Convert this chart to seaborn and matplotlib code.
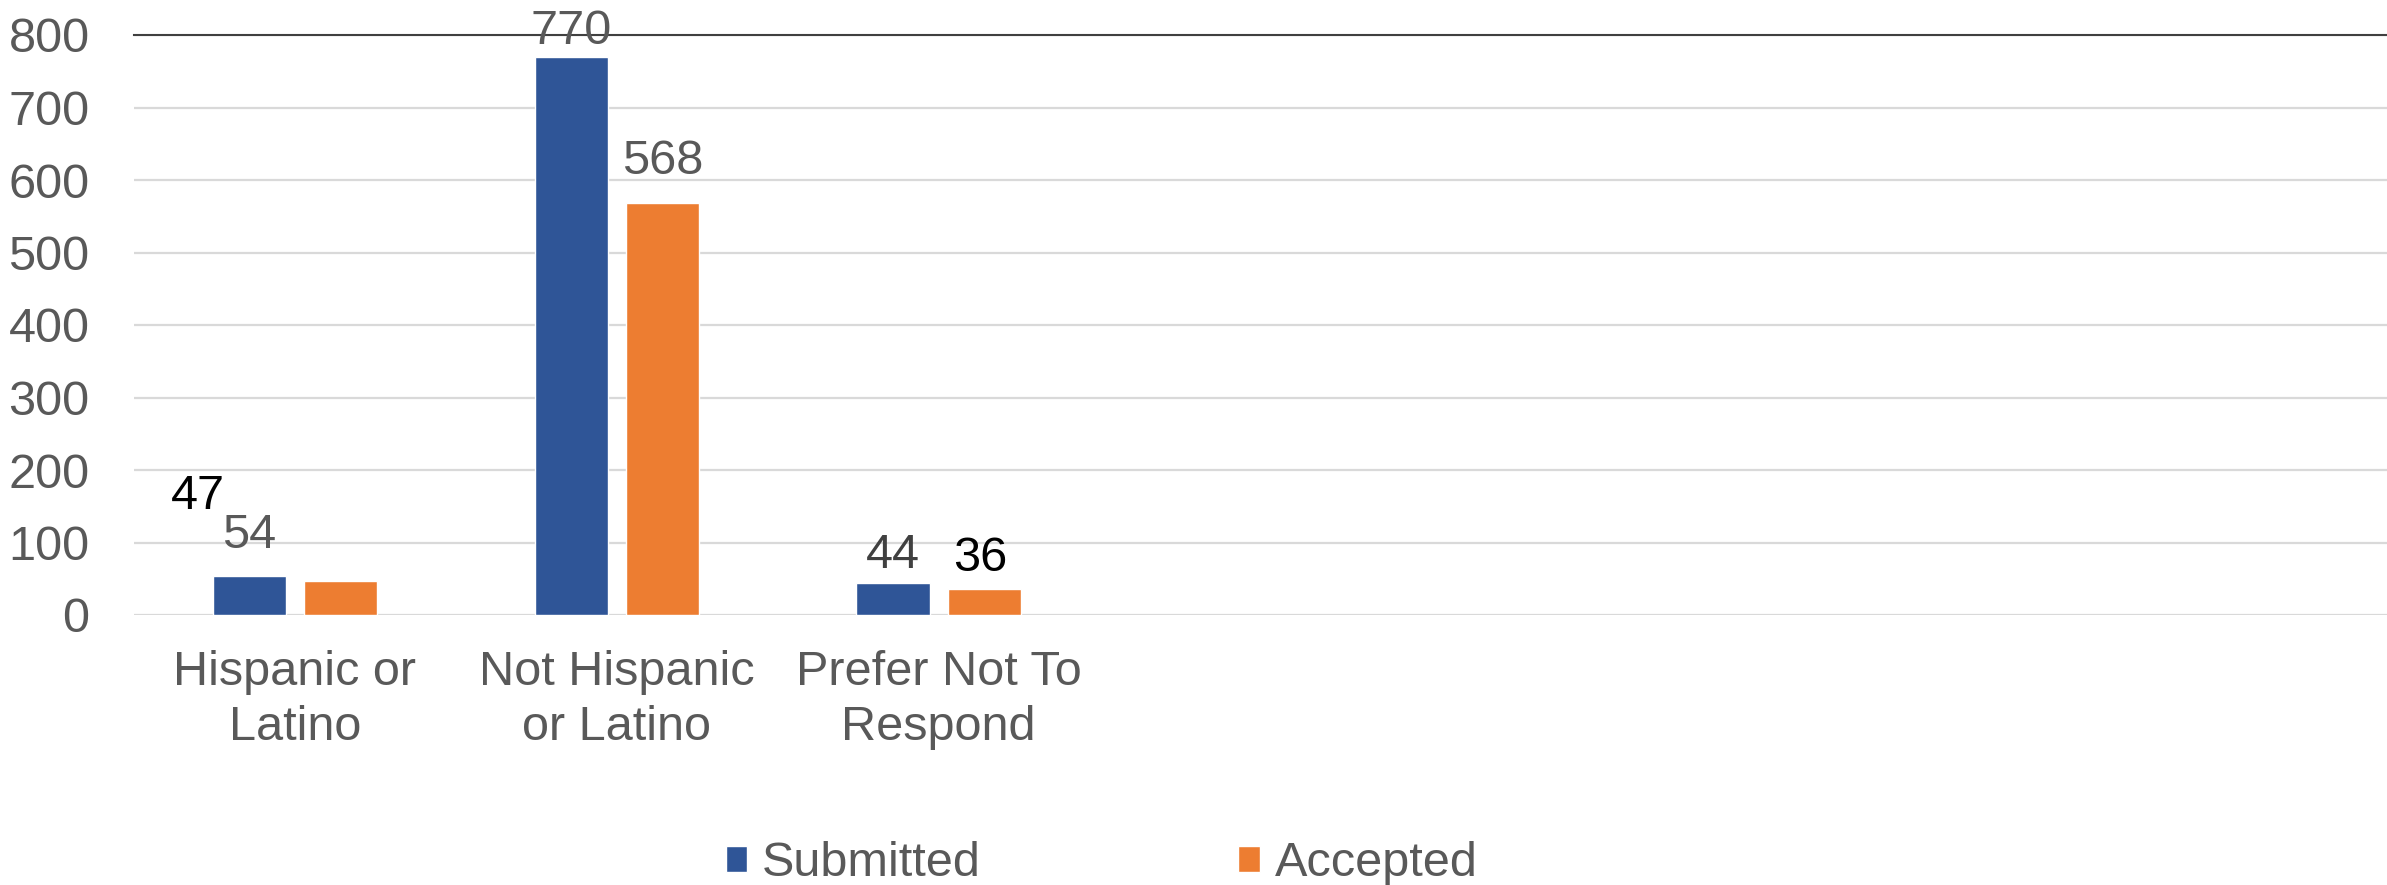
import matplotlib
matplotlib.use("Agg")
import matplotlib.pyplot as plt
import seaborn as sns
import pandas as pd

# data
categories = ["Hispanic or\nLatino", "Not Hispanic\nor Latino", "Prefer Not To\nRespond"]
submitted = [54, 770, 44]
accepted = [47, 568, 36]
series = ["Submitted", "Accepted"]
yticks = [0, 100, 200, 300, 400, 500, 600, 700, 800]

df = pd.DataFrame({
    "category": categories * 2,
    "value": submitted + accepted,
    "series": ["Submitted"] * 3 + ["Accepted"] * 3,
})

sns.set_style("white")
plt.rcParams["font.family"] = ["Liberation Sans", "DejaVu Sans"]
fs = 35

gray = "#595959"
palette = {"Submitted": "#2F5597", "Accepted": "#ED7D31"}

fig = plt.figure(figsize=(23.87, 8.85), dpi=100)
ax = fig.add_axes([134 / 2387, 1 - 615 / 885, 1 - 134 / 2387, (615 - 35) / 885])

sns.barplot(data=df, x="category", y="value", hue="series", hue_order=series,
            palette=palette, width=0.568, gap=0.2, saturation=1, ax=ax)

# the plot area has room for seven categories, only three are used
ax.set_xlim(-0.5, 6.5)
ax.set_ylim(0, 800)
ax.set_yticks(yticks)
ax.set_xlabel("")
ax.set_ylabel("")

ax.yaxis.grid(True, color="#d9d9d9", linewidth=1.6)
ax.set_axisbelow(True)
for side in ["left", "right", "bottom"]:
    ax.spines[side].set_visible(False)
ax.spines["top"].set_color("#404040")
ax.spines["top"].set_linewidth(1.5)

ax.tick_params(axis="y", length=0, pad=32, labelsize=fs, labelcolor=gray)
ax.tick_params(axis="x", length=0, pad=25, labelsize=fs, labelcolor=gray)
for t in ax.get_xticklabels():
    t.set_linespacing(1.3)

# data labels, placed like in the reference
label_colors = {"Submitted": [gray, gray, "#404040"], "Accepted": ["black", gray, "black"]}
label_offsets = {"Submitted": [(0, 40), (0, 25), (0, 28)],
                 "Accepted": [(-143, 84), (0, 42), (-4, 30)]}
for name, cont in zip(series, ax.containers):
    for i, bar in enumerate(cont):
        x = bar.get_x() + bar.get_width() / 2
        y = bar.get_height()
        ax.annotate(f"{int(round(y))}", (x, y), xytext=label_offsets[name][i],
                    textcoords="offset pixels", ha="center", va="center",
                    fontsize=fs, color=label_colors[name][i])

handles, labels = ax.get_legend_handles_labels()
ax.get_legend().remove()
fig.legend(handles, labels, loc="center left", bbox_to_anchor=(726 / 2387, 1 - 864 / 885),
           ncol=2, frameon=False, fontsize=fs, labelcolor=gray,
           handlelength=0.44, handleheight=0.44, handletextpad=0.3,
           columnspacing=5.3, borderpad=0, borderaxespad=0)

fig.savefig("out.png", dpi=100)
